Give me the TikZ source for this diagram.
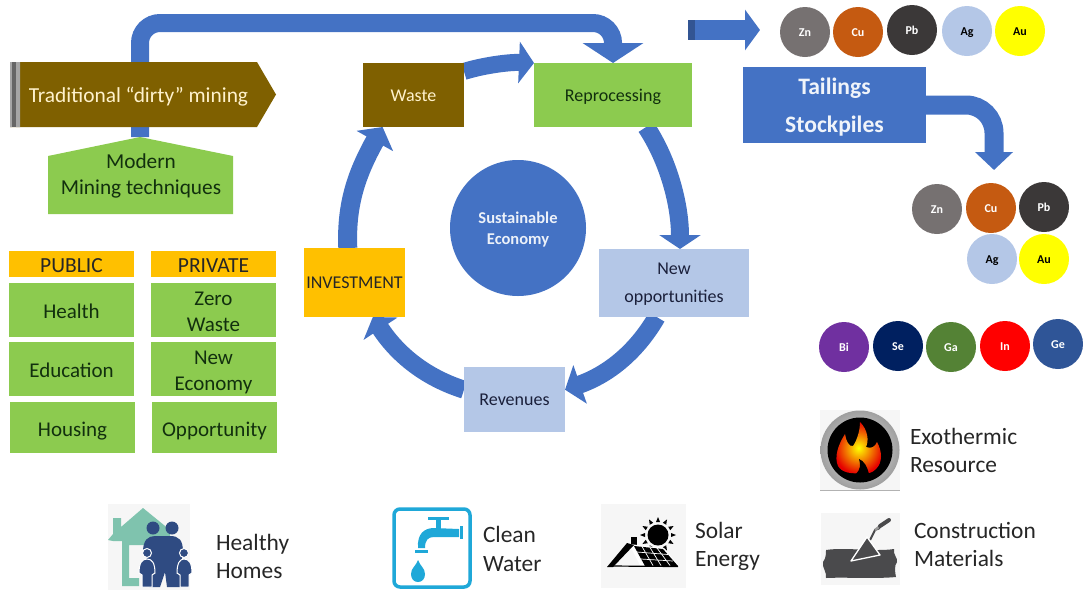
\documentclass[tikz,border=0pt]{standalone}
\usepackage{fontspec}
\setmainfont{Carlito}
\usetikzlibrary{arrows.meta,calc,shadings}
\pgfdeclarelayer{behind}
\pgfsetlayers{behind,main}
\definecolor{cblue}{HTML}{4472C4}
\definecolor{cbrown}{HTML}{7F6000}
\definecolor{cgreen}{HTML}{8CCB4F}
\definecolor{cgold}{HTML}{FFC000}
\definecolor{clight}{HTML}{B4C7E7}
\definecolor{ccream}{HTML}{FFF2CC}
\definecolor{cdarkgreen}{HTML}{12300E}
\definecolor{cnavy}{HTML}{1A1F3A}
\definecolor{cteal}{HTML}{7FC3AE}
\definecolor{cfam}{HTML}{2F4B82}
\definecolor{ctap}{HTML}{1FA8D8}
\definecolor{cicon}{HTML}{F6F6F6}
\definecolor{cslab}{HTML}{4A4A4C}
\newsavebox\tbbox
\newcommand\tb[2][1]{\sbox\tbbox{\begin{tabular}{@{}c@{}}#2\end{tabular}}\raisebox{-#1pt}[\ht\tbbox][\dp\tbbox]{\usebox\tbbox}}
\tikzset{
  x=1pt,y=-1pt,
  boxbase/.style={inner sep=0pt,outer sep=0pt},
  greenbox/.style={boxbase,fill=cgreen,text=cdarkgreen,font=\fontsize{21}{26}\selectfont},
  goldbox/.style={boxbase,fill=cgold,text=black!85,font=\fontsize{21.5}{24}\selectfont},
  cyclebox/.style={boxbase,font=\fontsize{18}{28}\selectfont},
  metal/.style={circle,boxbase,minimum size=50pt,font=\bfseries\fontsize{12}{13}\selectfont},
  legend/.style={inner sep=0pt,outer sep=0pt,anchor=west,align=left,text=black!85,font=\fontsize{23.4}{28.5}\selectfont},
  iconbg/.style={fill=cicon,draw=none},
  thick arrow/.style n args={3}{draw=cblue,line width=#1pt,-{Triangle[length=#2pt,width=#3pt]}},
}
\begin{document}
\begin{tikzpicture}
\useasboundingbox (0,0) rectangle (1083,590);
% traditional mining
\fill[cbrown] (10,62) -- (257,62) -- (276,94.5) -- (257,127) -- (10,127) -- cycle;
\fill[gray!70] (10,62) rectangle (12,127) (16,62) rectangle (20,127);
\fill[black!60] (12,62) rectangle (16,127);
\node[inner sep=0pt,outer sep=0pt,text=ccream,font=\fontsize{21.4}{26}\selectfont] (trad) at (138.5,96.5) {Traditional “dirty” mining};
% modern mining
\fill[cgreen] (48,156) -- (140,137) -- (233,156) -- (233,214) -- (48,214) -- cycle;
\coordinate (modtip) at (140,137);
\node[boxbase,text=cdarkgreen,font=\fontsize{21.3}{26}\selectfont] (modern) at (141,174) {\tb[2]{Modern\\Mining techniques}};
% tables
\node[goldbox,minimum width=125pt,minimum height=26pt] (public) at (71.5,264) {\tb[3.5]{PUBLIC}};
\node[greenbox,minimum width=125pt,minimum height=54pt] (health) at (71.5,310) {\tb[3]{Health}};
\node[greenbox,minimum width=125pt,minimum height=54pt] (education) at (71.5,369) {\tb[3]{Education}};
\node[greenbox,minimum width=125pt,minimum height=51pt] (housing) at (72.5,427.5) {\tb[3.5]{Housing}};
\node[goldbox,minimum width=125pt,minimum height=26pt] (private) at (213.5,264) {\tb[3.5]{PRIVATE}};
\node[greenbox,minimum width=125pt,minimum height=54pt] (zero) at (213.5,310) {\tb[3]{Zero\\Waste}};
\node[greenbox,minimum width=125pt,minimum height=54pt] (neweco) at (213.5,369) {\tb[3]{New\\Economy}};
\node[greenbox,minimum width=125pt,minimum height=51pt] (opport) at (214.5,427.5) {\tb[3.5]{Opportunity}};
% cycle
\node[cyclebox,fill=cbrown,text=ccream,minimum width=101pt,minimum height=64pt] (waste) at (413.5,95) {\tb{Waste}};
\node[cyclebox,fill=cgreen,text=cdarkgreen,minimum width=158pt,minimum height=64pt] (rep) at (613,95) {\tb{Reprocessing}};
\node[cyclebox,fill=clight,text=cnavy,minimum width=150pt,minimum height=68pt] (new) at (674,283) {\tb[0]{New\\opportunities}};
\node[cyclebox,fill=clight,text=cnavy,minimum width=101pt,minimum height=65pt] (rev) at (514.5,399.5) {\tb[0]{Revenues}};
\node[cyclebox,fill=cgold,text=black!85,minimum width=101pt,minimum height=69pt] (inv) at (354.5,282.5) {\tb[0]{INVESTMENT}};
\node[circle,boxbase,fill=cblue,text=white!90!cblue,minimum size=136pt,font=\bfseries\fontsize{16.5}{21}\selectfont] (core) at (518,228) {\tb[2]{Sustainable\\Economy}};
% tailings
\node[boxbase,fill=cblue,text=white!92!cblue,minimum width=183pt,minimum height=66pt,font=\bfseries\fontsize{23.6}{38}\selectfont] (tail) at (834.5,105) {\tb{Tailings\\Stockpiles}};
% top right arrow
\coordinate (topA) at (688,30);
\coordinate (topB) at (760,30);
\coordinate (turnTop) at (613,23);
\coordinate (turnTail) at (994,105);
\coordinate (tailEnd) at (994,170);
\begin{pgfonlayer}{behind}
\draw[thick arrow={18}{20}{60},rounded corners=20pt] (modtip) |- (turnTop) -- (rep.north);
\draw[thick arrow={20}{15}{40}] (topA) -- (topB);
\draw[thick arrow={19}{18}{37},rounded corners=28pt] (tail.east) -- (turnTail) -- (tailEnd);
\draw[thick arrow={17}{15}{41}] (waste.25) .. controls +(19,-6) and +(-25,-1) .. (rep.north west);
\draw[thick arrow={18}{14}{41}] (rep.-44) .. controls +(22,33) and +(0,-45) .. (new.80);
\draw[thick arrow={18}{16}{40}] (new.243) .. controls +(-22,38) and +(40,-14) .. (rev.11);
\draw[thick arrow={18}{14}{40}] (rev.169) .. controls +(-38,-12) and +(25,38) .. (inv.-62);
\draw[thick arrow={19}{16}{41}] (inv.101) .. controls +(-2,-45) and +(-25,45) .. (waste.226);
\end{pgfonlayer}
\fill[cblue!75!black] (688,20) rectangle (695,40);
% metals
\foreach \n/\t/\px/\py/\c/\tc in {
 a1/Zn/805/32/767171/white, a2/Cu/858/32/C55A11/white, a3/Pb/912/30/3B3838/white, a4/Ag/967/31/B4C7E7/black, a5/Au/1020/31/FFFF00/black,
 b1/Zn/937/209/767171/white, b2/Cu/991/208/C55A11/white, b3/Pb/1044/207/3B3838/white, b4/Ag/992/259/B4C7E7/black, b5/Au/1044/259/FFFF00/black,
 c1/Bi/844/347/7030A0/white, c2/Se/898/346/002060/white, c3/Ga/951/347/548235/white, c4/In/1005/346/FF0000/white, c5/Ge/1058/344/2F5597/white}{
  \definecolor{ctmp}{HTML}{\c}
  \node[metal,fill=ctmp,text=\tc] (\n) at (\px,\py) {\tb[1.5]{\t}};
}
% healthy homes icon
\fill[iconbg] (108,504) rectangle (190,590);
\fill[cteal] (108,540) -- (113,534) -- (113,518) -- (121,518) -- (121,527) -- (143,508) -- (170,530) -- (170,545) -- (129,545) -- (129,578) -- (139,578) -- (139,586) -- (122,586) -- (122,541) -- (113,541) -- cycle;
\begin{scope}[cfam]
\fill (153,528) circle (6.5) (172,528) circle (6.5);
\fill (143,552) .. controls (143,540) and (148,536) .. (155,536) -- (170,536) .. controls (179,536) and (183,540) .. (183,552) -- (181,564) -- (180,587) -- (167,587) -- (165,572) -- (160,587) -- (149,587) -- (149,562) -- cycle;
\end{scope}
\fill[cfam,draw=white,line width=1pt] (147,553) circle (4.5) (184,553) circle (4.5);
\fill[cfam,draw=white,line width=1pt] (139,573) .. controls (139,563) and (142,559) .. (147,559) .. controls (152,559) and (155,563) .. (155,573) -- (152,575) -- (152,587) -- (142,587) -- (142,575) -- cycle;
\fill[cfam,draw=white,line width=1pt] (177,573) .. controls (177,563) and (180,559) .. (184,559) .. controls (189,559) and (192,563) .. (192,573) -- (189,575) -- (189,587) -- (180,587) -- (180,575) -- cycle;
\node[legend] (homes) at (216,556.5) {Healthy\\Homes};
% clean water icon
\draw[ctap,line width=3.5pt,rounded corners=6pt] (394,509) rectangle (470,587);
\begin{scope}[ctap]
\fill (418,548) .. controls (417,534) and (424,528) .. (434,528) -- (459,529) -- (459,537) -- (434,537) .. controls (428,537) and (425,540) .. (425,548) -- cycle;
\fill (460,526) rectangle (463,539);
\fill (415,549.5) rectangle (428,552.5);
\fill (436,518) rectangle (441,530);
\fill (428,516.5) rectangle (449,520);
\fill (418,560) .. controls (420,566) and (425,568) .. (425,574) .. controls (425,579) and (422,582) .. (418,582) .. controls (414,582) and (411,579) .. (411,574) .. controls (411,568) and (416,566) .. (418,560) -- cycle;
\end{scope}
\node[legend] (water) at (483,549) {Clean\\Water};
% solar icon
\fill[iconbg] (601,504) rectangle (686,588);
\fill[black] (658,535) circle (10.5);
\foreach \a in {0,30,...,330}{
  \fill[black] ($(658,535)+(\a:13)+(\a+90:2)$) -- ($(658,535)+(\a:18)$) -- ($(658,535)+(\a:13)+(\a-90:2)$) -- cycle;
}
\fill[black] (631,537) rectangle (637,546);
\fill[white] (629,544) -- (664,548) -- (680,567) -- (641,567) -- cycle;
\fill[black] (607,567) -- (627,543) -- (634,545) -- (613,567) -- cycle;
\fill[black] (634,546) -- (663,549) -- (678,566) -- (645,566) -- cycle;
\draw[black,line width=1.2pt] (610,566) -- (678,566.5);
\draw[white,line width=.7pt]
  (637,552) -- (668,554.5) (641,559) -- (673,561)
  (642,546.5) -- (653,565.5) (650,547.5) -- (661,565.5) (657,548) -- (670,565.5);
\node[legend] (solar) at (695,546.5) {Solar\\Energy};
% exothermic icon
\fill[cicon] (820,410) rectangle (900,490);
\draw[gray!60,line width=.6pt] (820,490) -- (900,490);
\shade[inner color=gray!15,outer color=gray!75] (860,450) circle (39.5);
\fill[black] (860,450) circle (32.5);
\shade[inner color=yellow,middle color=orange,outer color=red!90!black]
 (862,473) .. controls (852,474) and (842,473) .. (838,466) .. controls (834,457) and (838,445) .. (845,434)
 .. controls (846,441) and (849,447) .. (853,446) .. controls (857,440) and (860,431) .. (860,422)
 .. controls (868,430) and (869,441) .. (866,447) .. controls (871,449) and (875,447) .. (877,442)
 .. controls (882,451) and (883,462) .. (876,469) .. controls (872,473) and (868,474) .. (862,473) -- cycle;
\fill[black] (856,474) .. controls (860,470) and (861,465) .. (859,459) .. controls (864,461) and (867,466) .. (869,474) -- cycle;
\node[legend] (exo) at (910,450.5) {Exothermic\\Resource};
% construction icon
\fill[iconbg] (821,513) rectangle (900,585);
\fill[cslab] (826,550) .. controls (845,547) and (875,552) .. (894,549) .. controls (893,555) and (898,558) .. (897,562) .. controls (894,566) and (895,572) .. (896,577) .. controls (875,579) and (845,577) .. (826,578) .. controls (827,572) and (822,568) .. (823,562) .. controls (826,558) and (826,554) .. (826,550) -- cycle;
\draw[cslab,line width=2pt] (870,540) -- (875,530) -- (880,528);
\draw[gray!80,line width=2.4pt] (875,530) -- (880,526);
\draw[cslab,line width=4pt,line cap=round] (880,526) -- (889,520);
\fill[cslab,draw=white,line width=1.3pt,line join=round] (851,561) -- (867,537) -- (880,555) -- cycle;
\node[legend] (constr) at (914,544.5) {Construction\\Materials};
\end{tikzpicture}
\end{document}
